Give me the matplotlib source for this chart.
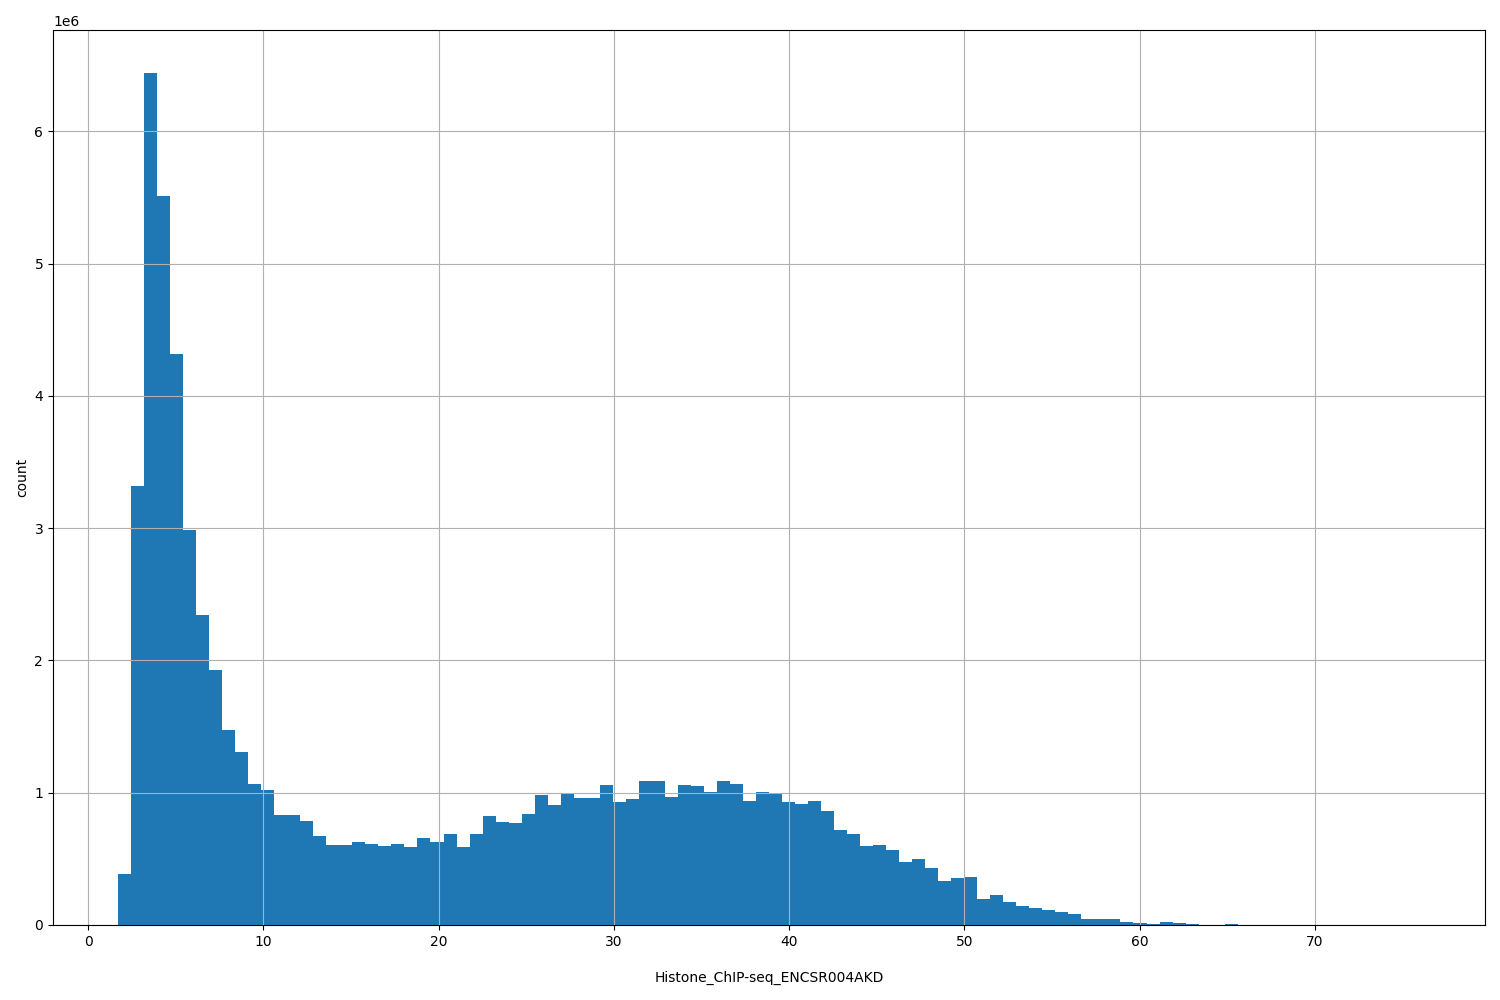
import numpy as np
import matplotlib
matplotlib.use("Agg")
from matplotlib import pyplot as plt

# histogram of Histone_ChIP-seq_ENCSR004AKD, 100 bins
x_min = 1.71
x_max = 76.0
n_bins = 100
# counts per bin, in millions
counts = [0.386, 3.32, 6.445, 5.51, 4.32, 2.99, 2.345, 1.93, 1.475, 1.31,
          1.067, 1.02, 0.832, 0.832, 0.787, 0.673, 0.605, 0.605, 0.628, 0.613,
          0.598, 0.613, 0.590, 0.658, 0.628, 0.688, 0.590, 0.688, 0.824, 0.779,
          0.772, 0.840, 0.983, 0.908, 0.991, 0.961, 0.961, 1.059, 0.930, 0.953,
          1.089, 1.089, 0.968, 1.059, 1.051, 1.006, 1.089, 1.067, 0.938, 1.006,
          0.991, 0.930, 0.915, 0.938, 0.862, 0.719, 0.688, 0.598, 0.605, 0.567,
          0.477, 0.499, 0.431, 0.333, 0.356, 0.363, 0.197, 0.227, 0.174, 0.144,
          0.129, 0.113, 0.098, 0.083, 0.045, 0.045, 0.045, 0.023, 0.015, 0.008,
          0.023, 0.015, 0.008, 0.003, 0.002, 0.008, 0.001, 0.001, 0.0005, 0.0005,
          0.0003, 0.0003, 0.0002, 0.0002, 0.0001, 0.0001, 0.0001, 0.0001, 0.0001, 0.0002]
xlabel = "Histone_ChIP-seq_ENCSR004AKD"
ylabel = "count"

edges = np.linspace(x_min, x_max, n_bins + 1)
centers = (edges[:-1] + edges[1:]) / 2
weights = np.array(counts) * 1e6

fig = plt.figure(figsize=(15, 10), dpi=100)
ax = fig.add_axes([0.0353, 0.075, 0.9547, 0.895])
ax.hist(centers, bins=edges, weights=weights, color='#1f77b4')
ax.grid(True)
ax.set_xlabel(xlabel, labelpad=16)
ax.set_ylabel(ylabel)

plt.savefig("out.png")
